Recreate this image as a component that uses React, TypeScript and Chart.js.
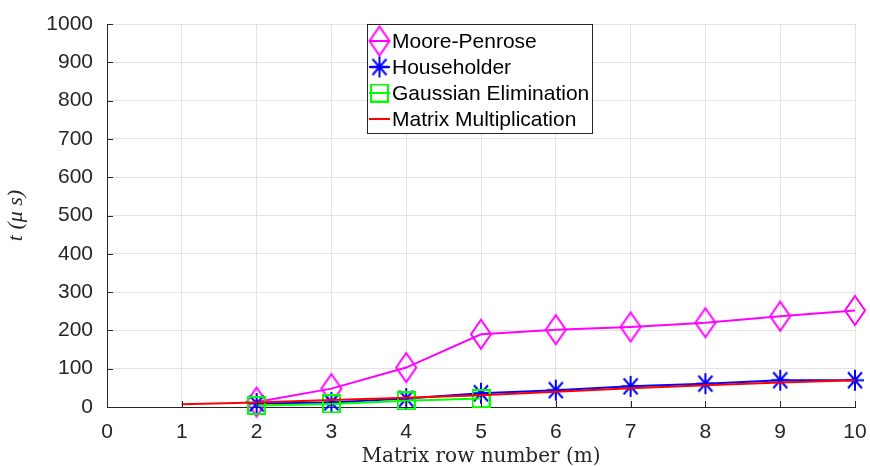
import React, { useEffect, useRef } from 'react';
import { Chart, registerables } from 'chart.js';

Chart.register(...registerables);

// ---- data ----
const mpX = [2, 3, 4, 5, 6, 7, 8, 9, 10];
const mpY = [13, 48, 103, 190, 202, 209, 220, 237, 252];
const hhX = [2, 3, 4, 5, 6, 7, 8, 9, 10];
const hhY = [9, 12, 22, 36, 44, 54, 61, 70, 70];
const geX = [2, 3, 4, 5];
const geY = [4, 8, 16, 22];
const mmX = [1, 2, 3, 4, 5, 6, 7, 8, 9, 10];
const mmY = [7, 12, 18, 24, 31, 40, 49, 57, 64, 70];
const seriesNames = ['Moore-Penrose', 'Householder', 'Gaussian Elimination', 'Matrix Multiplication'];
const seriesColors = ['#ff00ff', '#0000ff', '#00ff00', '#ff0000'];
const xTitle = 'Matrix row number (m)';
const yTitle = 't (\u03BC s)';

const pts = (xs: number[], ys: number[]) => xs.map((x, i) => ({ x, y: ys[i] }));

function diamondMarker(color: string) {
  const c = document.createElement('canvas');
  c.width = 24; c.height = 33;
  const g = c.getContext('2d')!;
  g.strokeStyle = color; g.lineWidth = 2;
  g.beginPath();
  g.moveTo(12, 2); g.lineTo(22, 16.5); g.lineTo(12, 31); g.lineTo(2, 16.5); g.closePath();
  g.stroke();
  return c;
}
function starMarker(color: string) {
  const c = document.createElement('canvas');
  c.width = 22; c.height = 25;
  const g = c.getContext('2d')!;
  g.strokeStyle = color; g.lineWidth = 2;
  const cx = 11, cy = 12.5;
  g.beginPath();
  g.moveTo(cx, cy - 10.5); g.lineTo(cx, cy + 10.5);
  g.moveTo(cx - 9, cy); g.lineTo(cx + 9, cy);
  g.moveTo(cx - 7, cy - 8); g.lineTo(cx + 7, cy + 8);
  g.moveTo(cx - 7, cy + 8); g.lineTo(cx + 7, cy - 8);
  g.stroke();
  return c;
}
function squareMarker(color: string) {
  const c = document.createElement('canvas');
  c.width = 19; c.height = 19;
  const g = c.getContext('2d')!;
  g.strokeStyle = color; g.lineWidth = 2;
  g.strokeRect(1, 1, 17, 17);
  return c;
}

const tickFont = { family: "'Liberation Sans', Arial, sans-serif", size: 21 };
const axisColor = '#262626';

const innerTicks = {
  id: 'innerTicks',
  afterDraw(chart: any) {
    const { ctx, chartArea } = chart;
    const xs = chart.scales.x, ys = chart.scales.y;
    ctx.save();
    ctx.strokeStyle = axisColor;
    ctx.lineWidth = 1;
    ctx.beginPath();
    xs.ticks.forEach((t: any) => {
      const p = Math.round(xs.getPixelForValue(t.value)) + 0.5;
      ctx.moveTo(p, chartArea.bottom); ctx.lineTo(p, chartArea.bottom - 6);
    });
    ys.ticks.forEach((t: any) => {
      const p = Math.round(ys.getPixelForValue(t.value)) + 0.5;
      ctx.moveTo(chartArea.left, p); ctx.lineTo(chartArea.left + 6, p);
    });
    ctx.stroke();
    ctx.restore();
  },
};

const boxLegend = {
  id: 'boxLegend',
  afterDraw(chart: any) {
    const { ctx } = chart;
    const left = 367, top = 24, w = 225, h = 109;
    ctx.save();
    ctx.fillStyle = '#ffffff';
    ctx.fillRect(left, top, w, h);
    ctx.strokeStyle = axisColor;
    ctx.lineWidth = 1;
    ctx.strokeRect(left + 0.5, top + 0.5, w, h);
    ctx.font = "21px 'Liberation Sans', Arial, sans-serif";
    ctx.textBaseline = 'middle';
    ctx.fillStyle = '#000000';
    chart.data.datasets.forEach((ds: any, i: number) => {
      const cy = top + 17 + i * 26;
      ctx.strokeStyle = ds.borderColor;
      ctx.lineWidth = 2;
      ctx.beginPath();
      ctx.moveTo(left + 2, cy); ctx.lineTo(left + 23, cy);
      ctx.stroke();
      const m = ds.pointStyle;
      if (m && typeof m !== 'string') {
        ctx.drawImage(m, left + 12.5 - m.width / 2, cy - m.height / 2);
      }
      ctx.fillStyle = '#000000';
      ctx.fillText(ds.label, left + 25, cy + 1);
    });
    ctx.restore();
  },
};

export default function App() {
  const ref = useRef<HTMLCanvasElement>(null);
  useEffect(() => {
    document.body.style.margin = '0';
    const chart = new Chart(ref.current!, {
      type: 'line',
      data: {
        datasets: [
          { label: seriesNames[0], data: pts(mpX, mpY), borderColor: seriesColors[0], backgroundColor: seriesColors[0], borderWidth: 2, pointStyle: diamondMarker(seriesColors[0]) as any, pointRadius: 10, order: 3, clip: false },
          { label: seriesNames[1], data: pts(hhX, hhY), borderColor: seriesColors[1], backgroundColor: seriesColors[1], borderWidth: 2, pointStyle: starMarker(seriesColors[1]) as any, pointRadius: 10, order: 2, clip: false },
          { label: seriesNames[2], data: pts(geX, geY), borderColor: seriesColors[2], backgroundColor: seriesColors[2], borderWidth: 2, pointStyle: squareMarker(seriesColors[2]) as any, pointRadius: 9, order: 1, clip: false },
          { label: seriesNames[3], data: pts(mmX, mmY), borderColor: seriesColors[3], backgroundColor: seriesColors[3], borderWidth: 2, pointRadius: 0, order: 0, clip: false },
        ] as any,
      },
      options: {
        animation: false,
        responsive: false,
        devicePixelRatio: 1,
        layout: { padding: { left: 0, right: 15, top: 24, bottom: 0 } },
        plugins: { legend: { display: false }, tooltip: { enabled: false } },
        scales: {
          x: {
            type: 'linear',
            min: 0, max: 10,
            ticks: { stepSize: 1, font: tickFont, color: axisColor, padding: 13, callback: (v: any) => String(v) },
            grid: { color: '#e3e3e3', drawTicks: false },
            border: { color: axisColor, width: 1 },
            title: { display: true, text: xTitle, font: { family: "'DejaVu Serif', 'Liberation Serif', serif", size: 20 }, color: axisColor, padding: { top: 0, bottom: -3 } },
            afterFit: (s: any) => { s.height = 59; s.paddingLeft = 0; s.paddingRight = 0; },
          },
          y: {
            type: 'linear',
            min: 0, max: 1000,
            ticks: { stepSize: 100, font: tickFont, color: axisColor, padding: 14, callback: (v: any) => String(v) },
            grid: { color: '#e3e3e3', drawTicks: false },
            border: { color: axisColor, width: 1 },
            title: { display: true, text: yTitle, font: { family: "'Liberation Serif', 'Times New Roman', serif", size: 22, style: 'italic' }, color: axisColor, padding: { top: 3, bottom: 0 } },
            afterFit: (s: any) => { s.width = 107; s.paddingTop = 0; s.paddingBottom = 0; },
          },
        },
      } as any,
      plugins: [innerTicks, boxLegend],
    });
    return () => chart.destroy();
  }, []);
  return (
    <div style={{ width: 870, height: 466, background: '#fff' }}>
      <canvas ref={ref} width={870} height={466} style={{ display: 'block' }} />
    </div>
  );
}
